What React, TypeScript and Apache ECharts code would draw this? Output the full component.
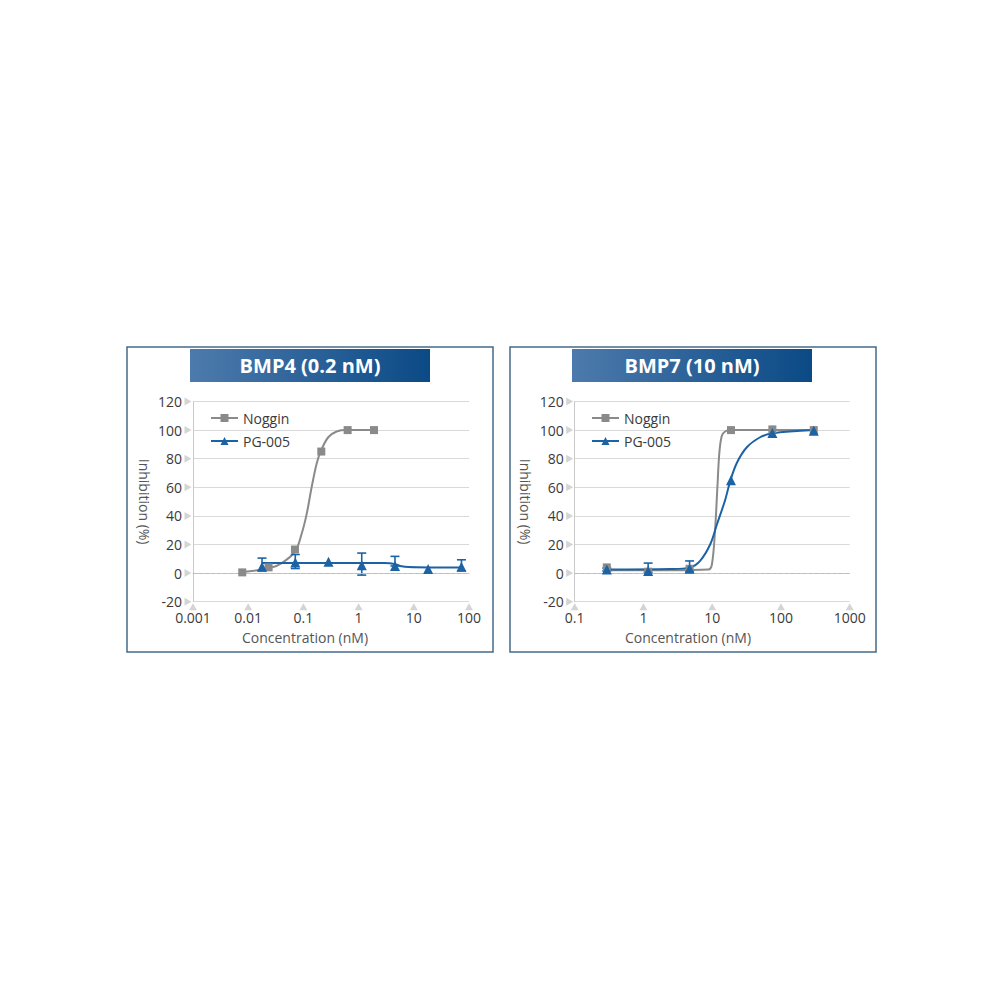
import React, { useEffect, useRef } from 'react';
import * as echarts from 'echarts';

// ---------- data ----------
const titleL = 'BMP4 (0.2 nM)';
const titleR = 'BMP7 (10 nM)';
const legendNames = ['Noggin', 'PG-005'];

const xTicksL = [0.001, 0.01, 0.1, 1, 10, 100];
const xTickLabelsL = ['0.001', '0.01', '0.1', '1', '10', '100'];
const xTicksR = [0.1, 1, 10, 100, 1000];
const xTickLabelsR = ['0.1', '1', '10', '100', '1000'];
const yTicks = [-20, 0, 20, 40, 60, 80, 100, 120];

// BMP4 panel
const nogginConcL = [0.0078, 0.0234, 0.0703, 0.211, 0.633, 1.9];
const nogginValL = [0.5, 4, 16.5, 85, 100, 100];
const nogginCurveConcL = [0.0078, 0.0248, 0.0405, 0.0705, 0.093, 0.115, 0.141, 0.174, 0.208, 0.282, 0.4, 0.61, 1.9];
const nogginCurveValL = [0.8, 3.5, 7, 15, 27.5, 41.6, 60, 76.7, 85.5, 95, 99, 100, 100];

const pgConcL = [0.0178, 0.0713, 0.285, 1.14, 4.56, 18.2, 73];
const pgValL = [4.5, 7.5, 8, 5.5, 5, 2.8, 4.5];
const pgErrConcL = [0.0178, 0.0713, 1.14, 4.56, 73];
const pgErrLowL = [1.6, 3.2, -1.4, 5, 1.6];
const pgErrHighL = [10.5, 13, 14, 11.7, 9.3];
const pgCurveConcL = [0.0178, 0.5, 3.0, 4.5, 6, 8, 20, 73];
const pgCurveValL = [7, 7, 7, 6.3, 4.8, 4.2, 4, 4];

// BMP7 panel
const nogginConcR = [0.293, 1.17, 4.69, 18.75, 75, 300];
const nogginValR = [4, 1, 3, 100, 100.5, 100];
const nogginCurveConcR = [0.293, 2.44, 8.8, 9.9, 11.0, 11.9, 12.7, 13.8, 15.4, 18.2, 300];
const nogginCurveValR = [2, 2, 2.5, 6, 30, 60, 84, 96, 99, 100, 100];

const pgConcR = [0.293, 1.17, 4.69, 18.75, 75, 300];
const pgValR = [2.5, 1.5, 3, 65, 98, 99.5];
const pgErrConcR = [0.293, 1.17, 4.69];
const pgErrLowR = [1.5, 0.5, 1];
const pgErrHighR = [3.5, 7, 8.5];
const pgCurveConcR = [0.293, 2.44, 4.77, 6.67, 9.33, 11.7, 15.4, 18.2, 22.8, 31.9, 49.8, 73.8, 300];
const pgCurveValR = [2.5, 2.8, 4, 8.6, 20, 34, 51, 64, 77, 88, 95, 97.7, 100];

// ---------- styles ----------
const GRAY = '#8a8a8a';
const BLUE = '#1c63a5';
const FONT = '"Open Sans", "Noto Sans", sans-serif';
const TICK = '#c9c9c9';
const GRID = '#d9d9d9';

const zip = (a: number[], b: number[]) => a.map((v, i) => [v, b[i]]);

function mkX(idx: number, min: number, max: number, labels: string[]) {
  return {
    type: 'log',
    logBase: 10,
    gridIndex: idx,
    min,
    max,
    axisLine: { show: true, lineStyle: { color: TICK, width: 1 } },
    axisTick: { show: false },
    splitLine: { show: false },
    axisLabel: {
      margin: 9,
      fontSize: 14,
      color: '#3a3a3a',
      fontFamily: FONT,
      formatter: (_v: number, i: number) => labels[i] ?? '',
    },
  };
}

function mkY(idx: number) {
  return {
    type: 'value',
    gridIndex: idx,
    min: -20,
    max: 120,
    interval: 20,
    name: 'Inhibition (%)',
    nameLocation: 'middle',
    nameRotate: -90,
    nameGap: 42,
    nameTextStyle: { fontSize: 14, color: '#555', fontFamily: FONT },
    axisLine: { show: true, lineStyle: { color: TICK, width: 1 } },
    axisTick: { show: false },
    axisLabel: { margin: 11, fontSize: 14, color: '#3a3a3a', fontFamily: FONT },
    splitLine: {
      show: true,
      lineStyle: {
        color: [GRID, 'rgba(0,0,0,0)', GRID, GRID, GRID, GRID, GRID, GRID],
        width: 1,
      },
    },
  };
}

function mkLegend(left: number) {
  return {
    data: legendNames,
    orient: 'vertical',
    left,
    top: 406,
    itemWidth: 27,
    itemHeight: 10,
    itemGap: 9,
    selectedMode: false,
    textStyle: { fontSize: 14, color: '#3a3a3a', fontFamily: FONT },
  };
}

function curve(name: string, idx: number, xs: number[], ys: number[], color: string, symbol: string) {
  return {
    type: 'line',
    name,
    xAxisIndex: idx,
    yAxisIndex: idx,
    data: zip(xs, ys),
    smooth: 0.35,
    symbol,
    showSymbol: false,
    lineStyle: { color, width: 2 },
    itemStyle: { color },
    z: 3,
  };
}

function points(name: string, idx: number, xs: number[], ys: number[], color: string, symbol: string, size: number) {
  return {
    type: 'scatter',
    name,
    xAxisIndex: idx,
    yAxisIndex: idx,
    data: zip(xs, ys),
    symbol,
    symbolSize: size,
    itemStyle: { color, opacity: 1 },
    clip: false,
    z: 5,
  };
}

function errBars(idx: number, xs: number[], lo: number[], hi: number[], color: string) {
  return {
    type: 'custom',
    name: 'err' + idx,
    xAxisIndex: idx,
    yAxisIndex: idx,
    data: xs.map((x, i) => [x, lo[i], hi[i]]),
    encode: { x: 0, y: [1, 2] },
    z: 4,
    renderItem: (_p: any, api: any) => {
      const x = api.value(0);
      const a = api.coord([x, api.value(1)]);
      const b = api.coord([x, api.value(2)]);
      const w = 4.5;
      const st = { stroke: color, lineWidth: 1.6 };
      return {
        type: 'group',
        children: [
          { type: 'line', shape: { x1: a[0], y1: a[1], x2: b[0], y2: b[1] }, style: st },
          { type: 'line', shape: { x1: a[0] - w, y1: a[1], x2: a[0] + w, y2: a[1] }, style: st },
          { type: 'line', shape: { x1: b[0] - w, y1: b[1], x2: b[0] + w, y2: b[1] }, style: st },
        ],
      };
    },
  };
}

function tickMarks(idx: number, xTicks: number[], xmin: number) {
  return [
    {
      type: 'scatter',
      name: 'xt' + idx,
      xAxisIndex: idx,
      yAxisIndex: idx,
      data: xTicks.map((v) => [v, -20]),
      symbol: 'triangle',
      symbolSize: [8, 7],
      symbolOffset: [0, 5],
      itemStyle: { color: TICK },
      clip: false,
      silent: true,
      z: 1,
    },
    {
      type: 'scatter',
      name: 'yt' + idx,
      xAxisIndex: idx,
      yAxisIndex: idx,
      data: yTicks.map((v) => [xmin, v]),
      symbol: 'triangle',
      symbolSize: [8, 7],
      symbolRotate: -90,
      symbolOffset: [-5, 0],
      itemStyle: { color: TICK },
      clip: false,
      silent: true,
      z: 1,
      markLine: {
        silent: true,
        symbol: ['none', 'none'],
        label: { show: false },
        lineStyle: { type: 'dashed', color: '#bdbdbd', width: 1 },
        data: [{ yAxis: 0 }],
      },
    },
  ];
}

function banner(x: number, w: number, text: string) {
  return [
    {
      type: 'rect',
      shape: { x, y: 349, width: w, height: 33 },
      style: {
        fill: new echarts.graphic.LinearGradient(0, 0, 1, 0, [
          { offset: 0, color: '#4d7aac' },
          { offset: 1, color: '#0b4a86' },
        ]),
      },
      z: 10,
    },
    {
      type: 'text',
      x: x + w / 2,
      y: 365.5,
      style: {
        text,
        fill: '#ffffff',
        font: `bold 20px ${FONT}`,
        textAlign: 'center',
        textVerticalAlign: 'middle',
        align: 'center',
        verticalAlign: 'middle',
      },
      z: 11,
    },
  ];
}

function axisName(x: number) {
  return {
    type: 'text',
    x,
    y: 637,
    style: {
      text: 'Concentration (nM)',
      fill: '#555',
      font: `14px ${FONT}`,
      textAlign: 'center',
      textVerticalAlign: 'middle',
      align: 'center',
      verticalAlign: 'middle',
    },
    z: 10,
  };
}

function panelBorder(x: number) {
  return {
    type: 'rect',
    shape: { x, y: 347, width: 366, height: 305 },
    style: { fill: 'none', stroke: '#45698b', lineWidth: 1.5 },
    z: 10,
  };
}

export default function App() {
  const ref = useRef<HTMLDivElement>(null);
  useEffect(() => {
    if (!ref.current) return;
    const chart = echarts.init(ref.current, undefined, { renderer: 'svg' });
    const option = {
      animation: false,
      backgroundColor: '#ffffff',
      textStyle: { fontFamily: FONT },
      graphic: [
        panelBorder(127),
        panelBorder(510),
        ...banner(190, 240, titleL),
        ...banner(572, 240, titleR),
        axisName(305),
        axisName(688),
      ],
      grid: [
        { left: 193, top: 401.5, width: 276, height: 200.2 },
        { left: 574.7, top: 401.5, width: 275, height: 200.2 },
      ],
      xAxis: [mkX(0, 0.001, 100, xTickLabelsL), mkX(1, 0.1, 1000, xTickLabelsR)],
      yAxis: [mkY(0), mkY(1)],
      legend: [mkLegend(205), mkLegend(586)],
      series: [
        curve('Noggin', 0, nogginCurveConcL, nogginCurveValL, GRAY, 'rect'),
        curve('PG-005', 0, pgCurveConcL, pgCurveValL, BLUE, 'triangle'),
        curve('Noggin', 1, nogginCurveConcR, nogginCurveValR, GRAY, 'rect'),
        curve('PG-005', 1, pgCurveConcR, pgCurveValR, BLUE, 'triangle'),
        ...tickMarks(0, xTicksL, 0.001),
        ...tickMarks(1, xTicksR, 0.1),
        errBars(0, pgErrConcL, pgErrLowL, pgErrHighL, BLUE),
        errBars(1, pgErrConcR, pgErrLowR, pgErrHighR, BLUE),
        points('Noggin data L', 0, nogginConcL, nogginValL, GRAY, 'rect', 8),
        points('PG-005 data L', 0, pgConcL, pgValL, BLUE, 'triangle', 10),
        points('Noggin data R', 1, nogginConcR, nogginValR, GRAY, 'rect', 8),
        points('PG-005 data R', 1, pgConcR, pgValR, BLUE, 'triangle', 10),
      ],
    };
    chart.setOption(option as any);
    return () => chart.dispose();
  }, []);
  return (
    <div
      ref={ref}
      style={{ position: 'fixed', left: 0, top: 0, width: 1000, height: 1000, background: '#fff' }}
    />
  );
}
